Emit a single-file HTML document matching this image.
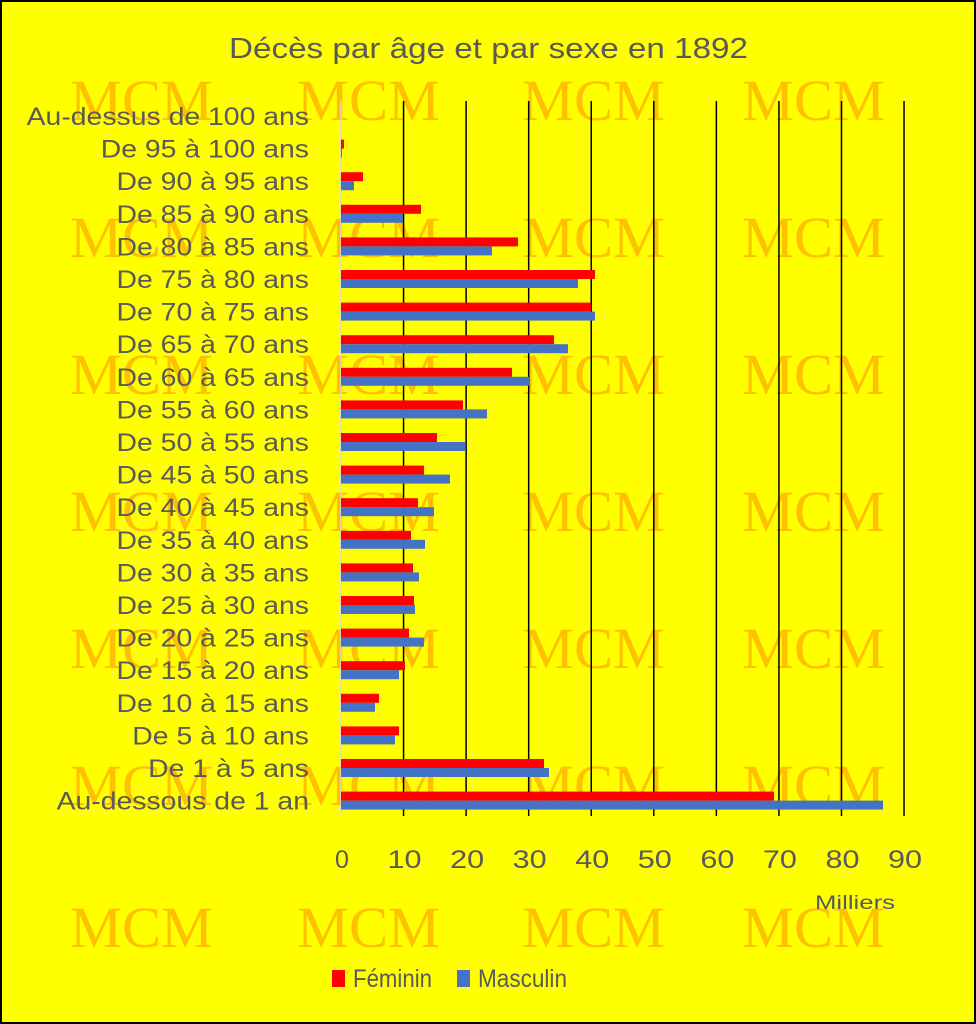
<!DOCTYPE html>
<html><head><meta charset="utf-8"><style>body{margin:0}svg{display:block}</style></head><body>
<svg width="976" height="1024" xmlns="http://www.w3.org/2000/svg" font-family="'Liberation Sans', sans-serif">
<rect x="1" y="1" width="974" height="1022" fill="#ffff00" stroke="#000" stroke-width="2"/>
<g id="wm" font-family="'Liberation Serif', serif" font-size="58" fill="#ffc000"></g>
<text x="229" y="58" textLength="519" lengthAdjust="spacingAndGlyphs" font-size="29" fill="#595959">Décès par âge et par sexe en 1892</text>
<g id="grid" stroke="#000" stroke-width="1.5"></g>
<line x1="341" y1="101" x2="341" y2="816" stroke="#d9d9d9" stroke-width="1.5"/>
<g id="bars"></g>
<g id="labels" font-size="25" fill="#595959"></g>
<g id="ticks" font-size="25" fill="#595959" text-anchor="middle"></g>
<text x="815" y="909" textLength="80" lengthAdjust="spacingAndGlyphs" font-size="19" fill="#595959">Milliers</text>
<rect x="332" y="970" width="13" height="17" fill="#ff0000"/>
<text x="353" y="987" textLength="79" lengthAdjust="spacingAndGlyphs" font-size="25" fill="#595959">Féminin</text>
<rect x="457" y="970" width="13" height="17" fill="#4472c4"/>
<text x="478" y="987" textLength="89" lengthAdjust="spacingAndGlyphs" font-size="25" fill="#595959">Masculin</text>
</svg>
<script>
var NS="http://www.w3.org/2000/svg";
function el(p,t,a,txt){var e=document.createElementNS(NS,t);for(var k in a)e.setAttribute(k,a[k]);if(txt!=null)e.textContent=txt;document.getElementById(p).appendChild(e);return e;}
var xs=[70,297,522,742],ys=[120,257,394,531,668,805,947];
ys.forEach(function(y){xs.forEach(function(x){el("wm","text",{x:x,y:y,textLength:143,lengthAdjust:"spacingAndGlyphs"},"MCM");});});
for(var i=1;i<=9;i++){var x=341+i*62.56;el("grid","line",{x1:x,y1:101,x2:x,y2:816});}
for(var i=0;i<=9;i++){var t=el("ticks","text",{x:341+i*62.56+1,y:868},String(i*10));if(i>0){t.setAttribute("textLength",34);t.setAttribute("lengthAdjust","spacingAndGlyphs");}}
var labs=["Au-dessus de 100 ans","De 95 à 100 ans","De 90 à 95 ans","De 85 à 90 ans","De 80 à 85 ans","De 75 à 80 ans","De 70 à 75 ans","De 65 à 70 ans","De 60 à 65 ans","De 55 à 60 ans","De 50 à 55 ans","De 45 à 50 ans","De 40 à 45 ans","De 35 à 40 ans","De 30 à 35 ans","De 25 à 30 ans","De 20 à 25 ans","De 15 à 20 ans","De 10 à 15 ans","De 5 à 10 ans","De 1 à 5 ans","Au-dessous de 1 an"];
var r=[341,344,363,421,518,595,591,554,512,463,437,424,418,411,413,414,409,405,379,399,544,774];
var b=[341,342,354,403,492,578,595,568,529,487,465,450,434,425,419,415,424,399,375,395,549,883];
for(var i=0;i<22;i++){var c=116+i*32.6;
var t=el("labels","text",{x:0,y:c+9},labs[i]);
var w=t.getComputedTextLength()*1.135;
t.setAttribute("textLength",w);t.setAttribute("lengthAdjust","spacingAndGlyphs");t.setAttribute("x",309-w);
if(r[i]>341)el("bars","rect",{x:341,y:c-9,width:r[i]-341,height:9,fill:"#ff0000"});
if(b[i]>341)el("bars","rect",{x:341,y:c,width:b[i]-341,height:9,fill:"#4472c4"});}
</script>
</body></html>
